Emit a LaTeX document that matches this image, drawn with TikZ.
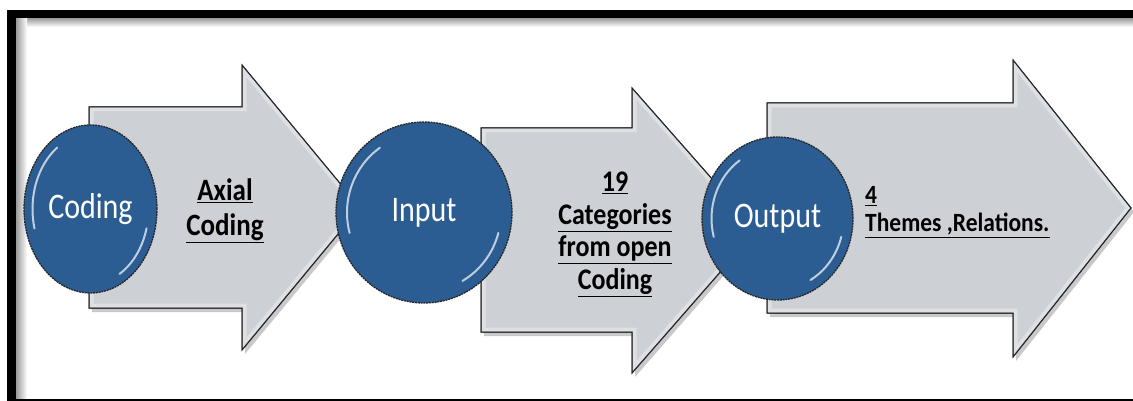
\documentclass[tikz,border=0pt]{standalone}
\usepackage{fontspec}
\setmainfont{Carlito}
\usetikzlibrary{shapes.geometric,shadows}
\definecolor{discblue}{HTML}{2B5D92}
\definecolor{arrowgrey}{HTML}{CDD0D5}
\tikzset{
  bigarrow/.style={fill=arrowgrey, draw=black!85, line width=1pt, line join=miter,
    drop shadow={opacity=0.35, shadow xshift=3pt, shadow yshift=-4pt, fill=black!60}},
  disc/.style={ellipse, fill=discblue, draw=black!85, line width=1.3pt,
    dash pattern=on 2pt off 0.8pt, text=white, inner sep=0pt,
    font=\fontsize{30}{32}\selectfont},
  shine/.style={white, line width=2pt, opacity=0.7, line cap=round},
  bevel/.style={white, line width=9pt, opacity=0.35},
  label/.style={text=black, inner sep=0pt, font=\bfseries\fontsize{27}{30}\selectfont},
}
\begin{document}
\begin{tikzpicture}[x=1pt,y=-1pt]
\useasboundingbox (0,0) rectangle (1133,401);
\fill[white] (0,0) rectangle (1133,401);
% frame
\shade[top color=black!40, bottom color=white] (16,18) rectangle (1133,27);
\shade[left color=black!40, right color=white] (16,18) rectangle (27,399);
\fill[black] (7,10) rectangle (1133,18);
\fill[black] (7,10) rectangle (16,401);
\fill[black] (7,398.6) rectangle (1133,401);

% arrows
\path[bigarrow] (89,107) -- (242,107) -- (242,65) -- (360,207.5) -- (242,350) -- (242,308) -- (89,308) -- cycle;
\begin{scope}
\clip (89,107) -- (242,107) -- (242,65) -- (360,207.5) -- (242,350) -- (242,308) -- (89,308) -- cycle;
\draw[bevel] (89,107) -- (242,107) -- (242,65) -- (360,207.5) -- (242,350) -- (242,308) -- (89,308) -- cycle;
\end{scope}
\draw[black!85, line width=1pt, line join=miter] (89,107) -- (242,107) -- (242,65) -- (360,207.5) -- (242,350) -- (242,308) -- (89,308) -- cycle;

\path[bigarrow] (481,128) -- (632,128) -- (632,88) -- (757,230) -- (632,373) -- (632,332) -- (481,332) -- cycle;
\begin{scope}
\clip (481,128) -- (632,128) -- (632,88) -- (757,230) -- (632,373) -- (632,332) -- (481,332) -- cycle;
\draw[bevel] (481,128) -- (632,128) -- (632,88) -- (757,230) -- (632,373) -- (632,332) -- (481,332) -- cycle;
\end{scope}
\draw[black!85, line width=1pt, line join=miter] (481,128) -- (632,128) -- (632,88) -- (757,230) -- (632,373) -- (632,332) -- (481,332) -- cycle;

\path[bigarrow] (767,103) -- (1013,103) -- (1013,60) -- (1131,208) -- (1013,357) -- (1013,313) -- (767,313) -- cycle;
\begin{scope}
\clip (767,103) -- (1013,103) -- (1013,60) -- (1131,208) -- (1013,357) -- (1013,313) -- (767,313) -- cycle;
\draw[bevel] (767,103) -- (1013,103) -- (1013,60) -- (1131,208) -- (1013,357) -- (1013,313) -- (767,313) -- cycle;
\end{scope}
\draw[black!85, line width=1pt, line join=miter] (767,103) -- (1013,103) -- (1013,60) -- (1131,208) -- (1013,357) -- (1013,313) -- (767,313) -- cycle;

% arrow labels
\node[label] (axial) at (225,211) {\scalebox{1}[1.15]{\begin{tabular}{@{}c@{}}\underline{Axial}\\\underline{Coding}\end{tabular}}};
\node[label, font=\bfseries\fontsize{26}{28.5}\selectfont] (cats) at (615,234) {\scalebox{1}[1.15]{\begin{tabular}{@{}c@{}}\underline{19}\\\underline{Categories}\\\underline{from open}\\\underline{Coding}\end{tabular}}};
\node[label, anchor=west, font=\bfseries\fontsize{23.5}{25.5}\selectfont] (themes) at (865,212) {\scalebox{1}[1.12]{\begin{tabular}{@{}l@{}}\underline{4}\\\underline{Themes ,Relations.}\end{tabular}}};

% discs
\node[disc, minimum width=133pt, minimum height=168pt] (coding) at (90.5,209) {\scalebox{1}[1.2]{Coding}};
\node[disc, minimum width=176pt, minimum height=181pt] (input) at (424,212.5) {\scalebox{1}[1.2]{Input}};
\node[disc, minimum width=151pt, minimum height=163pt] (output) at (777.5,218.5) {\scalebox{1}[1.2]{Output}};

% disc highlights
\draw[shine] (coding.center) ++(165:58 and 75) arc[start angle=165, end angle=235, x radius=58, y radius=75];
\draw[shine] (coding.center) ++(15:58 and 75) arc[start angle=15, end angle=60, x radius=58, y radius=75];
\draw[shine] (input.center) ++(165:77 and 79) arc[start angle=165, end angle=235, x radius=77, y radius=79];
\draw[shine] (input.center) ++(15:77 and 79) arc[start angle=15, end angle=60, x radius=77, y radius=79];
\draw[shine] (output.center) ++(165:66 and 71) arc[start angle=165, end angle=235, x radius=66, y radius=71];
\draw[shine] (output.center) ++(15:66 and 71) arc[start angle=15, end angle=60, x radius=66, y radius=71];
\end{tikzpicture}
\end{document}
